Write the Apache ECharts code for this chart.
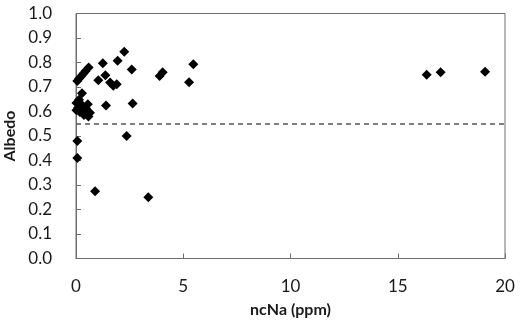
<!DOCTYPE html>
<html>
<head>
<meta charset="utf-8">
<script src="https://cdn.jsdelivr.net/npm/echarts@6/dist/echarts.min.js"></script>
<style>
  html, body { margin: 0; padding: 0; background: #fff; }
  #chart { width: 525px; height: 326px; }
</style>
</head>
<body>
<div id="chart"></div>
<script>
// ncNa (ppm) vs albedo
const ncNa = [
  0.06, 0.06, 0.89, 3.37, 2.36,
  0.06, 0.15, 0.25, 0.35, 0.45, 0.59, 0.28,
  1.04, 1.25, 1.37, 1.40, 1.59, 1.74, 1.90, 1.94, 2.25, 2.60, 2.64,
  3.90, 4.04, 5.27, 5.47,
  16.35, 17.0, 19.07,
  0.02, 0.10, 0.18, 0.37, 0.58, 0.02, 0.28, 0.47, 0.65, 0.14, 0.55, 0.30
]
const albedo = [
  0.41, 0.48, 0.275, 0.25, 0.50,
  0.725, 0.735, 0.745, 0.755, 0.765, 0.78, 0.675,
  0.728, 0.797, 0.748, 0.625, 0.718, 0.705, 0.711, 0.807, 0.844, 0.771, 0.633,
  0.745, 0.76, 0.719, 0.793,
  0.75, 0.76, 0.762,
  0.635, 0.615, 0.598, 0.586, 0.58, 0.605, 0.627, 0.612, 0.595, 0.648, 0.63, 0.60
]
const threshold = 0.55

const points = ncNa.map((x, i) => [x, albedo[i]])

const chart = echarts.init(document.getElementById('chart'))

const labelFont = { fontFamily: 'Lato', fontSize: 17, color: '#1a1a1a' }

chart.setOption({
  animation: false,
  grid: {
    left: 76,
    right: 20,
    top: 13.5,
    bottom: 67.5,
    outerBoundsMode: 'none',
    containLabel: false,
    show: true,
    borderColor: '#6e6e6e',
    borderWidth: 1
  },
  xAxis: {
    type: 'value',
    min: 0,
    max: 20,
    interval: 5,
    name: 'ncNa (ppm)',
    nameLocation: 'middle',
    nameGap: 43,
    nameTextStyle: { fontFamily: 'Lato', fontSize: 16, fontWeight: 'bold', color: '#1a1a1a' },
    axisLine: { lineStyle: { color: '#6e6e6e', width: 1 } },
    axisTick: { inside: true, length: 5, lineStyle: { color: '#6e6e6e' } },
    axisLabel: { ...labelFont, margin: 20 },
    splitLine: { show: false }
  },
  yAxis: {
    type: 'value',
    min: 0,
    max: 1,
    interval: 0.1,
    name: 'Albedo',
    nameLocation: 'middle',
    nameGap: 58,
    nameTextStyle: { fontFamily: 'Lato', fontSize: 16, fontWeight: 'bold', color: '#1a1a1a' },
    axisLine: { show: true, lineStyle: { color: '#6e6e6e', width: 1 } },
    axisTick: { show: true, inside: true, length: 5, lineStyle: { color: '#6e6e6e' } },
    axisLabel: { ...labelFont, margin: 24, formatter: (v) => v.toFixed(1) },
    splitLine: { show: false }
  },
  series: [
    {
      type: 'scatter',
      data: points,
      symbol: 'diamond',
      symbolSize: 10,
      itemStyle: { color: '#000', opacity: 1 },
      markLine: {
        silent: true,
        symbol: 'none',
        label: { show: false },
        lineStyle: { color: '#555', width: 1.5, type: [5, 4] },
        data: [{ yAxis: threshold }]
      }
    }
  ]
})
</script>
</body>
</html>
